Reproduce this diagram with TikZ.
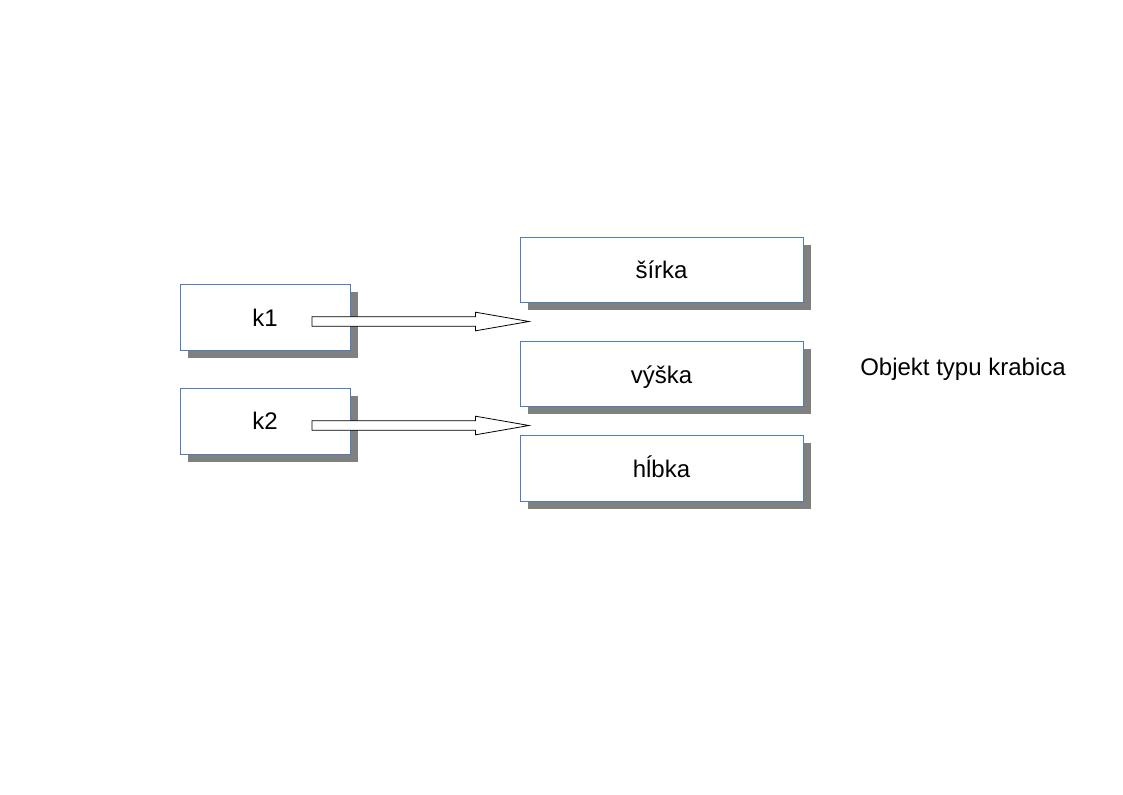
\documentclass[tikz,border=0pt]{standalone}
\usepackage{fontspec}
\setmainfont{Liberation Sans}
\usetikzlibrary{calc}
\definecolor{boxline}{HTML}{4F7BBF}
\definecolor{shadowgray}{HTML}{808080}
\tikzset{
  fieldbox/.style={draw=boxline, line width=0.65pt, fill=white},
  fatarrow/.style={draw=black, line width=0.6pt, fill=white, line join=miter},
  label/.style={font=\fontsize{18}{21}\selectfont, inner sep=0pt}
}
\begin{document}
\begin{tikzpicture}[x=0.75pt, y=-0.75pt]
\useasboundingbox (0,0) rectangle (1123,794);
% shadows
\foreach \xa/\ya/\xb/\yb in {180/284/350/350, 180/388/350/454, 520/237/803/302, 520/341/803/406, 520/435/803/501}{
  \fill[shadowgray] (\xa+7.5,\ya+7.5) rectangle (\xb+7.5,\yb+7.5);
}
% boxes
\draw[fieldbox] (180,284) rectangle (350,350);
\node[label] (k1) at (265,318) {k1};
\draw[fieldbox] (180,388) rectangle (350,454);
\node[label] (k2) at (265,421) {k2};
\draw[fieldbox] (520,237) rectangle (803,302);
\node[label] (sirka) at (661.5,270) {šírka};
\draw[fieldbox] (520,341) rectangle (803,406);
\node[label] (vyska) at (661.5,377) {výška};
\draw[fieldbox] (520,435) rectangle (803,501);
\node[label] (hlbka) at (661.5,466.5) {hĺbka};
% arrows
\coordinate (a1s) at (312,321.5);
\coordinate (a1e) at (529,321.5);
\coordinate (a2s) at (312,425.5);
\coordinate (a2e) at (529,425.5);
\foreach \s/\e in {a1s/a1e, a2s/a2e}{
  \draw[fatarrow] ($(\s)+(0,-4.7)$) -- ($(\e)+(-53.5,-4.7)$) -- ($(\e)+(-53.5,-9.3)$) -- (\e)
    -- ($(\e)+(-53.5,9.3)$) -- ($(\e)+(-53.5,4.7)$) -- ($(\s)+(0,4.7)$) -- cycle;
}
\node[label, anchor=west] (obj) at (860,369.5) {Objekt typu krabica};
\end{tikzpicture}
\end{document}
